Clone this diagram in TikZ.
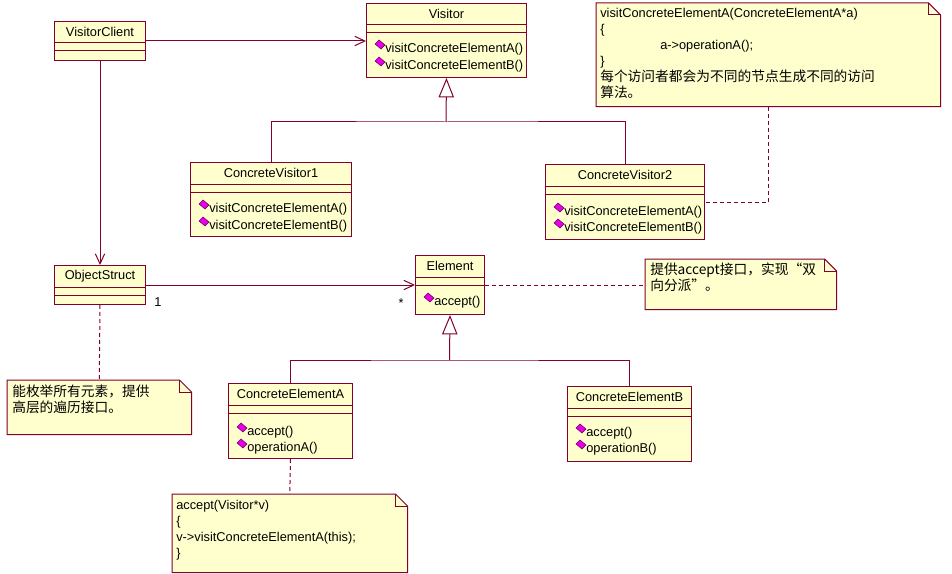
\documentclass[tikz,border=0pt]{standalone}
\usepackage{fontspec}
\setmainfont{Liberation Sans}
\newfontfamily\cjk{Noto Sans CJK SC}
\usepackage{tikz}
\usetikzlibrary{arrows.meta, positioning, calc}
\definecolor{umlred}{RGB}{128,0,48}
\definecolor{umlfill}{RGB}{255,255,206}
\definecolor{opfill}{RGB}{230,0,230}
\definecolor{opedge}{RGB}{110,0,90}
\newcommand{\zh}{\cjk\fontsize{10.3}{12}\selectfont}
\tikzset{
  classbox/.style={rectangle, draw=umlred, fill=umlfill, line width=0.75pt,
    inner sep=0pt, anchor=north west},
  notebox/.style={rectangle, inner sep=0pt, anchor=north west},
  classname/.style={font=\fontsize{9.6}{11}\selectfont, inner sep=0pt},
  opname/.style={font=\fontsize{9.6}{11}\selectfont, inner sep=0pt, anchor=west},
  opicon/.style={fill=opfill, draw=opedge, line width=0.4pt},
  notetext/.style={font=\fontsize{9.6}{12}\selectfont, align=left,
    inner sep=0pt, anchor=north west},
  mult/.style={font=\fontsize{9.6}{11}\selectfont, inner sep=0pt},
  link/.style={draw=umlred, line width=0.75pt},
  assoc/.style={link, -{Straight Barb[length=7.5pt, width=7pt]}},
  inherit/.style={link, -{Triangle[open, length=14.5pt, width=11.5pt]}},
  notelink/.style={link, dash pattern=on 3pt off 2.25pt}
}
% name, left, top, width, height, title
\newcommand{\umlclass}[6]{%
  \node[classbox, minimum width=#4*0.75pt, minimum height=#5*0.75pt] (#1) at (#2,#3) {};
  \node[classname] (#1-name) at ($(#1.north)+(0,11)$) {#6};
  \draw[link] ($(#1.north west)+(0,22)$) -- ($(#1.north east)+(0,22)$)
              ($(#1.north west)+(0,30)$) -- ($(#1.north east)+(0,30)$);
}
% name, class left, text y, text
\newcommand{\umlop}[4]{%
  \filldraw[opicon] (#2+14,#3-4) ++(-5,-1) -- ++(4,-4) -- ++(6,5) -- ++(-4,4) -- cycle;
  \node[opname] (#1) at (#2+19,#3) {#4};
}
% name, left, top, width, height
\newcommand{\umlnote}[5]{%
  \node[notebox, minimum width=#4*0.75pt, minimum height=#5*0.75pt] (#1) at (#2,#3) {};
  \filldraw[link, fill=umlfill] (#1.north west) -- ($(#1.north east)+(-12,0)$)
    -- ($(#1.north east)+(0,12)$) -- (#1.south east) -- (#1.south west) -- cycle;
  \draw[link] ($(#1.north east)+(-12,0)$) |- ($(#1.north east)+(0,12)$);
}

\begin{document}
\begin{tikzpicture}[x=0.75pt, y=-0.75pt]
  \useasboundingbox (0,0) rectangle (952,574);
  \fill[white] (0,0) rectangle (952,574);

  % Visitor side
  \umlclass{vclient}{54}{21}{91}{39}{VisitorClient}
  \umlclass{visitor}{366}{3}{160}{74}{Visitor}
  \umlop{visitor-a}{366}{49}{visitConcreteElementA()}
  \umlop{visitor-b}{366}{66}{visitConcreteElementB()}

  \umlclass{cv1}{190}{162}{161}{74}{ConcreteVisitor1}
  \umlop{cv1-a}{190}{209}{visitConcreteElementA()}
  \umlop{cv1-b}{190}{226}{visitConcreteElementB()}

  \umlclass{cv2}{545}{164}{159}{75}{ConcreteVisitor2}
  \umlop{cv2-a}{545}{212}{visitConcreteElementA()}
  \umlop{cv2-b}{545}{228}{visitConcreteElementB()}

  % Element side
  \umlclass{objstruct}{54}{265}{91}{39}{ObjectStruct}
  \umlclass{element}{415}{255}{69}{59}{Element}
  \umlop{element-accept}{415}{302}{accept()}

  \umlclass{cea}{228}{383}{124}{75}{ConcreteElementA}
  \umlop{cea-accept}{228}{432}{accept()}
  \umlop{cea-op}{228}{448}{operationA()}

  \umlclass{ceb}{567}{386}{124}{75}{ConcreteElementB}
  \umlop{ceb-accept}{567}{433}{accept()}
  \umlop{ceb-op}{567}{449}{operationB()}

  % Notes
  \umlnote{note1}{596}{3}{344}{103}
  \node[notetext] (note1-text) at (600,8) {visitConcreteElementA(ConcreteElementA*a)\\
    \{\\ \hspace*{45pt}a->operationA();\\ \}\\
    {\zh 每个访问者都会为不同的节点生成不同的访问}\\ {\zh 算法。}};
  \umlnote{note2}{645}{259}{191}{50}
  \node[notetext, font=\zh] (note2-text) at (650,263) {提供accept接口，实现“双\\向分派”。};
  \umlnote{note3}{7}{380}{184}{54}
  \node[notetext, font=\zh] (note3-text) at (12,385) {能枚举所有元素，提供\\高层的遍历接口。};
  \umlnote{note4}{172}{494}{235}{78}
  \node[notetext] (note4-text) at (176,500) {accept(Visitor*v)\\ \{\\
    v->visitConcreteElementA(this);\\ \}};

  % Connections
  \draw[assoc] (vclient.east) -- (vclient.east -| visitor.west);
  \draw[assoc] (vclient.south) -- (objstruct.north);
  \draw[assoc] (objstruct.east) -- (objstruct.east -| element.west);
  \node[mult] (mult-one) at (158,302) {1};
  \node[mult] (mult-many) at (401,303) {*};

  \coordinate (vjoin) at (446,122);
  \draw[link] (cv1.north) |- (vjoin) -| (cv2.north);
  \draw[inherit] (vjoin) -- (visitor.south);
  \coordinate (ejoin) at (449.5,360);
  \draw[link] (cea.north) |- (ejoin) -| (ceb.north);
  \draw[inherit] (ejoin) -- (element.south);

  \draw[notelink] (note1.south) |- (cv2.east);
  \draw[notelink] (element.east) -- (element.east -| note2.west);
  \draw[notelink] (objstruct.south) -- (note3.north);
  \draw[notelink] (cea.south) -- (note4.north);
\end{tikzpicture}
\end{document}
